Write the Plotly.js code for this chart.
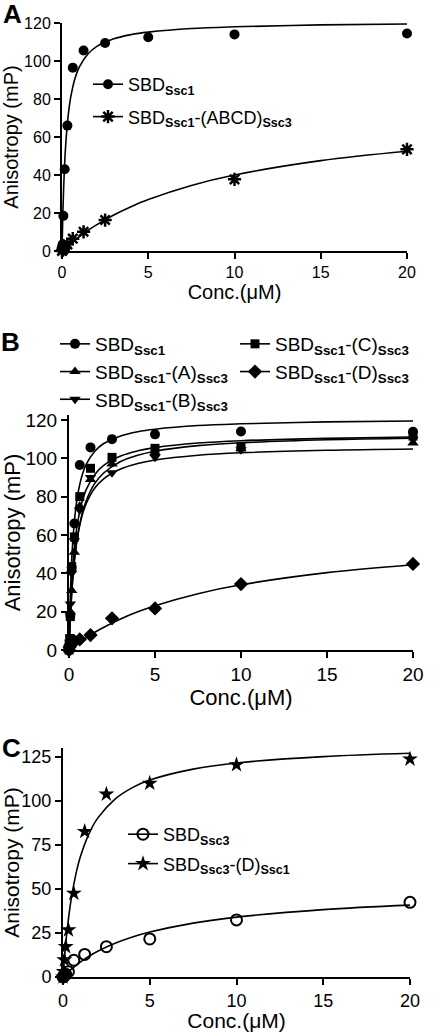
<!DOCTYPE html>
<html>
<head>
<meta charset="utf-8">
<script src="https://cdn.plot.ly/plotly-3.0.1.min.js"></script>
<style>html,body{margin:0;padding:0;background:#fff;}#chart{width:433px;height:1032px;}</style>
</head>
<body>
<div id="chart"></div>
<script>
// ---------- DATA ----------
var concA = [0, 0.039, 0.078, 0.156, 0.3125, 0.625, 1.25, 2.5, 5, 10, 20];
var aSsc1 = [2, 3.5, 18.5, 43, 66, 96.5, 105.5, 109.5, 112.5, 114, 114.5];
var concAbcd = [0, 0.039, 0.078, 0.156, 0.3125, 0.625, 1.25, 2.5, 10, 20];
var aAbcd = [0, 0.5, 1, 2, 3.5, 6.5, 10.1, 16.3, 37.7, 53.5];

var concB = [0, 0.039, 0.078, 0.156, 0.3125, 0.625, 1.25, 2.5, 5, 10, 20];
var bSsc1 = [2, 4, 18, 43, 66, 96.5, 105.7, 110, 112.5, 114, 113.9];
var bA = [0, 3, 20, 31, 51, 75, 89, 97, 103, 105, 108];
var bB = [0, 4, 24, 40, 57, 73, 90, 92.5, 100.5, 104.5, 110];
var bC = [0, 6, 17.4, 43.5, 59, 80, 94.8, 100.5, 105.2, 106, 111.6];
var bD = [0, 1.5, 2.5, 3.5, 4.5, 5.5, 7.8, 16.5, 21.7, 34.4, 44.9];

var concC = [0, 0.039, 0.078, 0.156, 0.3125, 0.625, 1.25, 2.5, 5, 10, 20];
var cSsc3 = [0, 0.3, 0.8, 1.5, 3, 9.5, 12.8, 17.2, 21.6, 32.4, 42.4];
var cD = [0, 3, 9.7, 17.2, 26.7, 47.5, 82.6, 103.8, 110, 120.5, 123.7];

// fitted curves
var fitX = [0, 0.05, 0.1, 0.15, 0.2, 0.3, 0.4, 0.5, 0.75, 1, 1.5, 2, 3, 4, 5, 7.5, 10, 15, 20];
var fitSsc1 = [0, 20.2, 34.6, 45.4, 53.8, 66.0, 74.5, 80.7, 90.8, 96.8, 103.7, 107.6, 111.7, 113.9, 115.2, 117.1, 118.0, 119.0, 119.5];
var fitAbcd = [0, 0.42, 0.83, 1.24, 1.64, 2.44, 3.22, 3.98, 5.81, 7.56, 10.81, 13.77, 18.94, 23.31, 27.09, 34.52, 40.0, 47.56, 52.5];
var fitBC = [0, 14.1, 25.1, 33.9, 41.1, 52.2, 60.3, 66.5, 77.0, 83.7, 91.6, 96.2, 101.2, 103.9, 105.6, 108.0, 109.2, 110.4, 111.1];
var fitBA = [0, 11.3, 20.5, 28.3, 34.8, 45.2, 53.2, 59.5, 70.6, 77.9, 86.9, 92.2, 98.3, 101.6, 103.7, 106.6, 108.1, 109.7, 110.5];
var fitBB = [0, 11.9, 21.4, 29.2, 35.7, 45.9, 53.5, 59.4, 69.8, 76.4, 84.5, 89.2, 94.4, 97.3, 99.1, 101.6, 102.9, 104.2, 104.9];
var fitBD = [0, 0.36, 0.71, 1.06, 1.41, 2.09, 2.76, 3.41, 4.98, 6.48, 9.25, 11.77, 16.18, 19.91, 23.1, 29.38, 34.0, 40.35, 44.5];
var fitCD = [0, 6.65, 12.7, 18.1, 23.1, 31.9, 39.4, 45.9, 58.7, 68.2, 81.4, 90.2, 101.0, 107.5, 111.8, 118.0, 121.5, 125.1, 127.0];
var fitCSsc3 = [0, 0.5, 1.0, 1.49, 1.96, 2.89, 3.78, 4.64, 6.65, 8.5, 11.77, 14.57, 19.13, 22.67, 25.5, 30.6, 34.0, 38.25, 40.8];

var xTicks = [0, 5, 10, 15, 20];
var yTicksAB = [0, 20, 40, 60, 80, 100, 120];
var yTicksC = [0, 25, 50, 75, 100, 125];

var nameSsc1 = 'SBD<sub><b>Ssc1</b></sub>';
var nameAbcd = 'SBD<sub><b>Ssc1</b></sub>-(ABCD)<sub><b>Ssc3</b></sub>';
var nameA = 'SBD<sub><b>Ssc1</b></sub>-(A)<sub><b>Ssc3</b></sub>';
var nameB = 'SBD<sub><b>Ssc1</b></sub>-(B)<sub><b>Ssc3</b></sub>';
var nameC = 'SBD<sub><b>Ssc1</b></sub>-(C)<sub><b>Ssc3</b></sub>';
var nameD = 'SBD<sub><b>Ssc1</b></sub>-(D)<sub><b>Ssc3</b></sub>';
var nameSsc3 = 'SBD<sub><b>Ssc3</b></sub>';
var nameSsc3D = 'SBD<sub><b>Ssc3</b></sub>-(D)<sub><b>Ssc1</b></sub>';

// ---------- HELPERS ----------
var W = 433, H = 1032;
var FONT = 'Arial, "Liberation Sans", Helvetica, sans-serif';
function px(x) { return x / W; }
function py(y) { return 1 - y / H; }

function curve(x, y, xa, ya) {
  return {x: x, y: y, xaxis: xa, yaxis: ya, mode: 'lines', line: {color: '#000', width: 1.6, shape: 'spline'},
          showlegend: false, hoverinfo: 'skip'};
}
function pts(x, y, xa, ya, sym, size, lw) {
  return {x: x, y: y, xaxis: xa, yaxis: ya, mode: 'markers', cliponaxis: false,
          marker: {symbol: sym, size: size, color: '#000', line: {color: '#000', width: lw || 0}},
          showlegend: false};
}
function leg(name, legend, sym, size, lw, group) {
  return {x: [null], y: [null], mode: 'lines+markers', name: name, legend: legend, legendgroup: group,
          line: {color: '#000', width: 1.6},
          marker: {symbol: sym, size: size, color: '#000', line: {color: '#000', width: lw || 0}}};
}

var traces = [
  // Panel A
  curve(fitX, fitSsc1, 'x', 'y'),
  curve(fitX, fitAbcd, 'x', 'y'),
  pts(concA, aSsc1, 'x', 'y', 'circle', 10),
  pts(concAbcd, aAbcd, 'x', 'y', 'asterisk-open', 11, 2.5),
  leg(nameSsc1, 'legend', 'circle', 10, 0, 'a1'),
  leg(nameAbcd, 'legend', 'asterisk-open', 11, 2.5, 'a2'),
  // Panel B
  curve(fitX, fitSsc1, 'x2', 'y2'),
  curve(fitX, fitBC, 'x2', 'y2'),
  curve(fitX, fitBA, 'x2', 'y2'),
  curve(fitX, fitBB, 'x2', 'y2'),
  curve(fitX, fitBD, 'x2', 'y2'),
  pts(concB, bSsc1, 'x2', 'y2', 'circle', 10),
  pts(concB, bA, 'x2', 'y2', 'triangle-up', 10),
  pts(concB, bB, 'x2', 'y2', 'triangle-down', 10),
  pts(concB, bC, 'x2', 'y2', 'square', 9),
  pts(concB, bD, 'x2', 'y2', 'diamond', 11),
  leg(nameSsc1, 'legend2', 'circle', 10, 0, 'b1'),
  leg(nameA, 'legend2', 'triangle-up', 10, 0, 'b2'),
  leg(nameB, 'legend2', 'triangle-down', 10, 0, 'b3'),
  leg(nameC, 'legend3', 'square', 9, 0, 'b4'),
  leg(nameD, 'legend3', 'diamond', 11, 0, 'b5'),
  // Panel C
  curve(fitX, fitCD, 'x3', 'y3'),
  curve(fitX, fitCSsc3, 'x3', 'y3'),
  pts(concC, cSsc3, 'x3', 'y3', 'circle-open', 11, 2),
  pts(concC, cD, 'x3', 'y3', 'star', 12),
  leg(nameSsc3, 'legend4', 'circle-open', 11, 2, 'c1'),
  leg(nameSsc3D, 'legend4', 'star', 12, 0, 'c2')
];

function xaxis(d0, d1, anchor, fs, tfs, standoff) {
  return {domain: [px(d0), px(d1)], range: [0, 20], anchor: anchor, tickvals: xTicks,
          showline: true, linecolor: '#000', linewidth: 2, ticks: 'outside', ticklen: 6, tickwidth: 2, tickcolor: '#000',
          showgrid: false, zeroline: false, tickfont: {family: FONT, size: fs, color: '#000'},
          title: {text: 'Conc.(\u03bcM)', font: {family: FONT, size: tfs, color: '#000', weight: 'normal'}, standoff: standoff}};
}
function yaxis(top, bottom, range, ticks, anchor, fs, tfs, standoff) {
  return {domain: [py(bottom), py(top)], range: range, anchor: anchor, tickvals: ticks,
          showline: true, linecolor: '#000', linewidth: 2, ticks: 'outside', ticklen: 6, tickwidth: 2, tickcolor: '#000',
          showgrid: false, zeroline: false, tickfont: {family: FONT, size: fs, color: '#000'},
          title: {text: 'Anisotropy (mP)', font: {family: FONT, size: tfs, color: '#000', weight: 'normal'}, standoff: standoff}};
}
function legend(x, y, fs, gap) {
  return {x: px(x), y: py(y), xanchor: 'left', yanchor: 'top', bgcolor: 'rgba(0,0,0,0)',
          font: {family: FONT, size: fs, color: '#000'}, traceorder: 'grouped', tracegroupgap: gap,
          itemclick: false, itemdoubleclick: false};
}
function label(t, x, y) {
  return {text: '<b>' + t + '</b>', x: px(x), y: py(y), xref: 'paper', yref: 'paper', showarrow: false,
          xanchor: 'center', yanchor: 'middle', font: {family: FONT, size: 26, color: '#000'}};
}

var layout = {
  width: W, height: H, margin: {l: 0, r: 0, t: 0, b: 0},
  paper_bgcolor: '#fff', plot_bgcolor: '#fff', showlegend: true,
  xaxis: xaxis(62, 407, 'y', 16, 20, 0),
  yaxis: yaxis(23, 251, [0, 120], yTicksAB, 'x', 16, 20, 6),
  xaxis2: xaxis(69, 413, 'y2', 19, 22, 2),
  yaxis2: yaxis(415, 650, [0, 122.6], yTicksAB, 'x2', 19, 22, 6),
  xaxis3: xaxis(63, 410, 'y3', 18, 21, 1),
  yaxis3: yaxis(748, 977, [0, 130], yTicksC, 'x3', 18, 21, 6),
  legend: legend(88, 66, 18, 6),
  legend2: legend(55, 325, 19, 0),
  legend3: legend(235, 325, 19, 0),
  legend4: legend(123, 816, 18, 3),
  annotations: [label('A', 12, 14), label('B', 10, 342), label('C', 11, 748)]
};

Plotly.newPlot('chart', traces, layout, {displayModeBar: false, staticPlot: true});
</script>
</body>
</html>
